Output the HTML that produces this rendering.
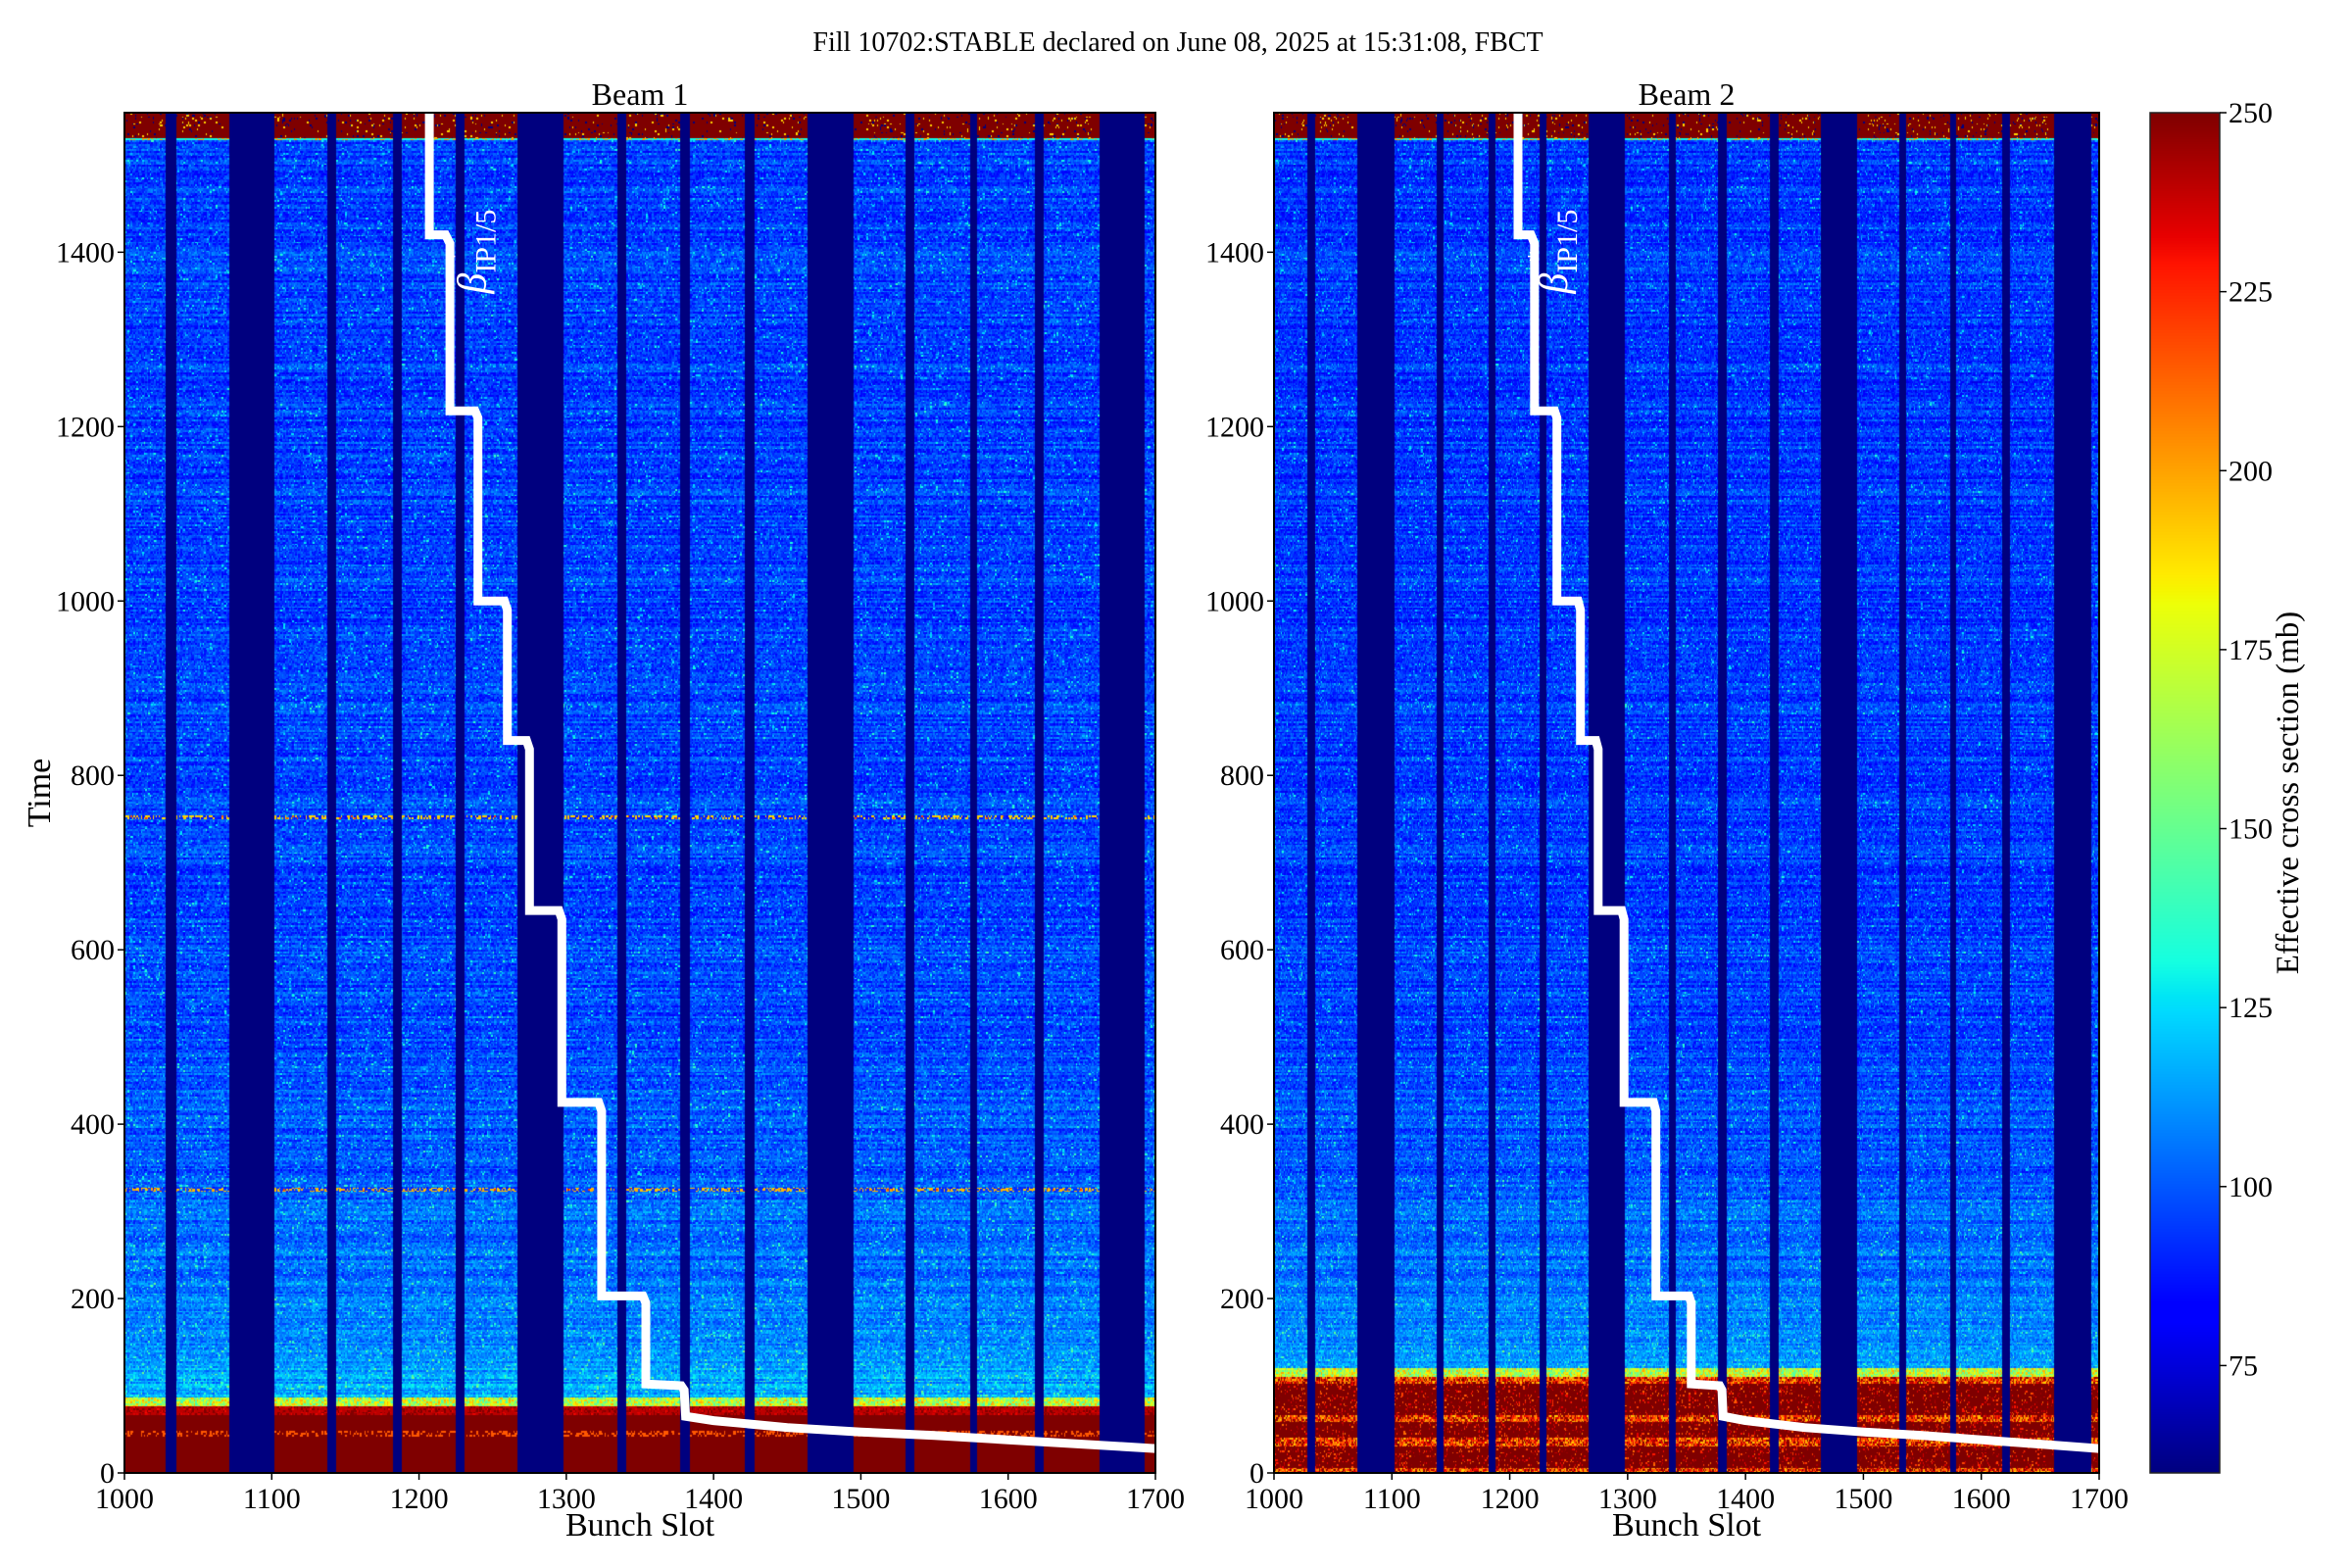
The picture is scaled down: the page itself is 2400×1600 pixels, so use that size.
<!DOCTYPE html>
<html><head><meta charset="utf-8">
<style>
html,body{margin:0;padding:0;background:#fff;}
#root{position:relative;width:2400px;height:1600px;overflow:hidden;font-family:"Liberation Serif",serif;}
canvas{position:absolute;}
svg{position:absolute;left:0;top:0;}
</style></head>
<body>
<div id="root">
<canvas id="hm1" style="left:127px;top:115px" width="1052" height="1388"></canvas>
<canvas id="hm2" style="left:1300px;top:115px" width="842" height="1388"></canvas>
<canvas id="cb" style="left:2194px;top:115px" width="71" height="1388"></canvas>
<svg id="ov" width="2400" height="1600"></svg>
</div>
<script>
// ---- data ----
const slotMin = 1000, slotMax = 1700;
const timeMin = 0, timeMax = 1560;
const xTicks = [1000,1100,1200,1300,1400,1500,1600,1700];
const yTicks = [0,200,400,600,800,1000,1200,1400];
const cbMin = 60, cbMax = 250;
const cbTicks = [75,100,125,150,175,200,225,250];
const gapStarts = [1028,1071,1138,1182,1225,1267,1335,1377,1421,1464,1530,1574,1618,1662];
const gapEnds   = [1035,1102,1144,1188,1231,1298,1341,1384,1428,1495,1536,1579,1624,1693];
const redBottom = [76,110];      // top of low-time saturated region, beam1 / beam2
const redTopStart = 1528;        // start of saturated region at top
const blueLevel = [95,93];       // typical cross section in main region
const betaSlots = [1207,1207,1218,1221,1221,1238,1240,1240,1258,1260,1260,1273,1275,1275,1295,1297,1297,1322,1324,1324,1352,1354,1354,1378,1380,1381,1400,1450,1500,1550,1600,1650,1700];
const betaTimes = [1560,1420,1420,1410,1218,1218,1210,1000,1000,990,840,840,830,645,645,635,425,425,415,203,203,195,102,100,95,65,60,52,47,43,38,33,28];

const panels = [
  {name:'beam1', title:'Beam 1', x0:127, x1:1179, canvas:'hm1'},
  {name:'beam2', title:'Beam 2', x0:1300, x1:2142, canvas:'hm2'}
];
const Y0 = 115, Y1 = 1503;

function jet(v){
  function interp(pts){for(let i=1;i<pts.length;i++){if(v<=pts[i][0]){const a=pts[i-1],b=pts[i];return a[1]+(b[1]-a[1])*(v-a[0])/(b[0]-a[0]);}}return pts[pts.length-1][1];}
  v=Math.max(0,Math.min(1,v));
  const r=interp([[0,0],[0.35,0],[0.66,1],[0.89,1],[1,0.5]]);
  const g=interp([[0,0],[0.125,0],[0.375,1],[0.64,1],[0.91,0],[1,0]]);
  const b=interp([[0,0.5],[0.11,1],[0.34,1],[0.65,0],[1,0]]);
  return [r*255|0,g*255|0,b*255|0];
}
function h(a,b){const s=Math.sin(a*12.9898+b*78.233)*43758.5453;return s-Math.floor(s);}
function isGap(slot){for(let i=0;i<gapStarts.length;i++){if(slot>=gapStarts[i]&&slot<gapEnds[i])return true;}return false;}

function value(pi, slot, row, t){
  if(isGap(slot)) return 0;
  const n=h(slot,row), n2=h(row*3.1,slot*0.7), rn=h(row,7.3);
  if(t>=redTopStart){ if(t<redTopStart+3) return n<0.3?200:130; return (n<0.08)?(n<0.04?0:190):260; }
  const rb=redBottom[pi];
  if(t<rb){
    if(pi===0){ if(t>rb-10) return n<0.5?240:200+n*60; if(Math.abs(t-45)<3&&n>0.6) return 215; return 260; }
    const band=(t>rb-8)||(Math.abs(t-62)<4)||(Math.abs(t-35)<5)||(t<6);
    if(band) return 190+n*70;
    return n<0.85?260:210+n2*40;
  }
  if(t<rb+10) return 140+n*60;
  let v=blueLevel[pi]+ (rn-0.5)*14 + (n-0.5)*22 + 22*Math.exp(-(t-rb)/200);
  if(n2>0.95) v+=28;
  if(pi===0 && (Math.abs(t-752)<2||Math.abs(t-325)<2) && n>0.6) v+=90;
  return v;
}

panels.forEach((p,pi)=>{
  const c=document.getElementById(p.canvas), ctx=c.getContext('2d');
  const W=c.width,H=c.height, img=ctx.createImageData(W,H);
  for(let y=0;y<H;y++){
    const t=timeMax-(y+0.5)/H*(timeMax-timeMin);
    const row=Math.floor(t/2);
    for(let x=0;x<W;x++){
      const slot=Math.floor(slotMin+(x+0.5)/W*(slotMax-slotMin));
      const v=value(pi,slot,row,t);
      const col=jet((v-cbMin)/(cbMax-cbMin));
      const k=(y*W+x)*4; img.data[k]=col[0];img.data[k+1]=col[1];img.data[k+2]=col[2];img.data[k+3]=255;
    }
  }
  ctx.putImageData(img,0,0);
});
(function(){
  const c=document.getElementById('cb'),ctx=c.getContext('2d');
  for(let y=0;y<c.height;y++){const col=jet(1-y/c.height);ctx.fillStyle=`rgb(${col[0]},${col[1]},${col[2]})`;ctx.fillRect(0,y,c.width,1);}
})();

const NS='http://www.w3.org/2000/svg', svg=document.getElementById('ov');
function el(tag,attrs,parent){const e=document.createElementNS(NS,tag);for(const k in attrs)e.setAttribute(k,attrs[k]);(parent||svg).appendChild(e);return e;}
function txt(s,attrs,parent){const e=el('text',attrs,parent);e.textContent=s;return e;}
const yS=t=>Y1-(t-timeMin)/(timeMax-timeMin)*(Y1-Y0);

const title=txt('Fill 10702:STABLE declared on June 08, 2025 at 15:31:08, FBCT',{x:1202,y:52,'text-anchor':'middle','font-size':28,'font-family':'Liberation Serif, serif'});


const defs=el('defs',{});
panels.forEach((p,pi)=>{
  const xS=s=>p.x0+(s-slotMin)/(slotMax-slotMin)*(p.x1-p.x0);
  const g=el('g',{});
  
  const cp=el('clipPath',{id:'clip'+pi},defs);el('rect',{x:p.x0,y:Y0,width:p.x1-p.x0,height:Y1-Y0},cp);
  const pts=betaSlots.map((s,i)=>xS(s).toFixed(1)+','+yS(betaTimes[i]).toFixed(1)).join(' ');
  const line=el('polyline',{points:pts,fill:'none',stroke:'#fff','stroke-width':9,'clip-path':`url(#clip${pi})`},g);
  
  const lx=xS(1232), ly=yS(1375);
  const lab=el('text',{x:0,y:0,transform:`translate(${lx+20},${ly+20}) rotate(-90)`,fill:'#fff','font-size':42,'font-family':'Liberation Serif, serif'},g);
  
  const b=document.createElementNS(NS,'tspan');b.setAttribute('font-style','italic');b.textContent='β';lab.appendChild(b);
  const s1=document.createElementNS(NS,'tspan');s1.setAttribute('font-size',30);s1.setAttribute('dy',10);s1.textContent='IP1/5';lab.appendChild(s1);
  const star=txt('*',{x:0,y:0,transform:`translate(${lx-4},${ly-12}) rotate(-90)`,fill:'#fff','font-size':24},g);
  
  el('rect',{x:p.x0,y:Y0,width:p.x1-p.x0,height:Y1-Y0,fill:'none',stroke:'#000','stroke-width':2},g);
  xTicks.forEach(v=>{const x=xS(v);el('line',{x1:x,x2:x,y1:Y1,y2:Y1+7,stroke:'#000','stroke-width':1.5},g);
    const t=txt(String(v),{x:x,y:Y1+36,'text-anchor':'middle','font-size':30},g);});
  yTicks.forEach(v=>{const y=yS(v);el('line',{x1:p.x0-7,x2:p.x0,y1:y,y2:y,stroke:'#000','stroke-width':1.5},g);
    const t=txt(String(v),{x:p.x0-10,y:y+10,'text-anchor':'end','font-size':30},g);});
  const pt=txt(p.title,{x:(p.x0+p.x1)/2,y:107,'text-anchor':'middle','font-size':32},g);
  
  const xl=txt('Bunch Slot',{x:(p.x0+p.x1)/2,y:1567,'text-anchor':'middle','font-size':34},g);
  
});
const yl=txt('Time',{x:0,y:0,transform:'translate(51,809) rotate(-90)','text-anchor':'middle','font-size':34});


const cg=el('g',{});
el('rect',{x:2194,y:Y0,width:71,height:Y1-Y0,fill:'none',stroke:'#222','stroke-width':1.5},cg);
const cS=v=>Y1-(v-cbMin)/(cbMax-cbMin)*(Y1-Y0);
cbTicks.forEach(v=>{const y=cS(v);el('line',{x1:2265,x2:2272,y1:y,y2:y,stroke:'#000','stroke-width':1.5},cg);
  const t=txt(String(v),{x:2274,y:y+10,'font-size':30},cg);});
const cl=txt('Effective cross section (mb)',{x:0,y:0,transform:'translate(2345,809) rotate(-90)','text-anchor':'middle','font-size':33},cg);

</script>
</body></html>
